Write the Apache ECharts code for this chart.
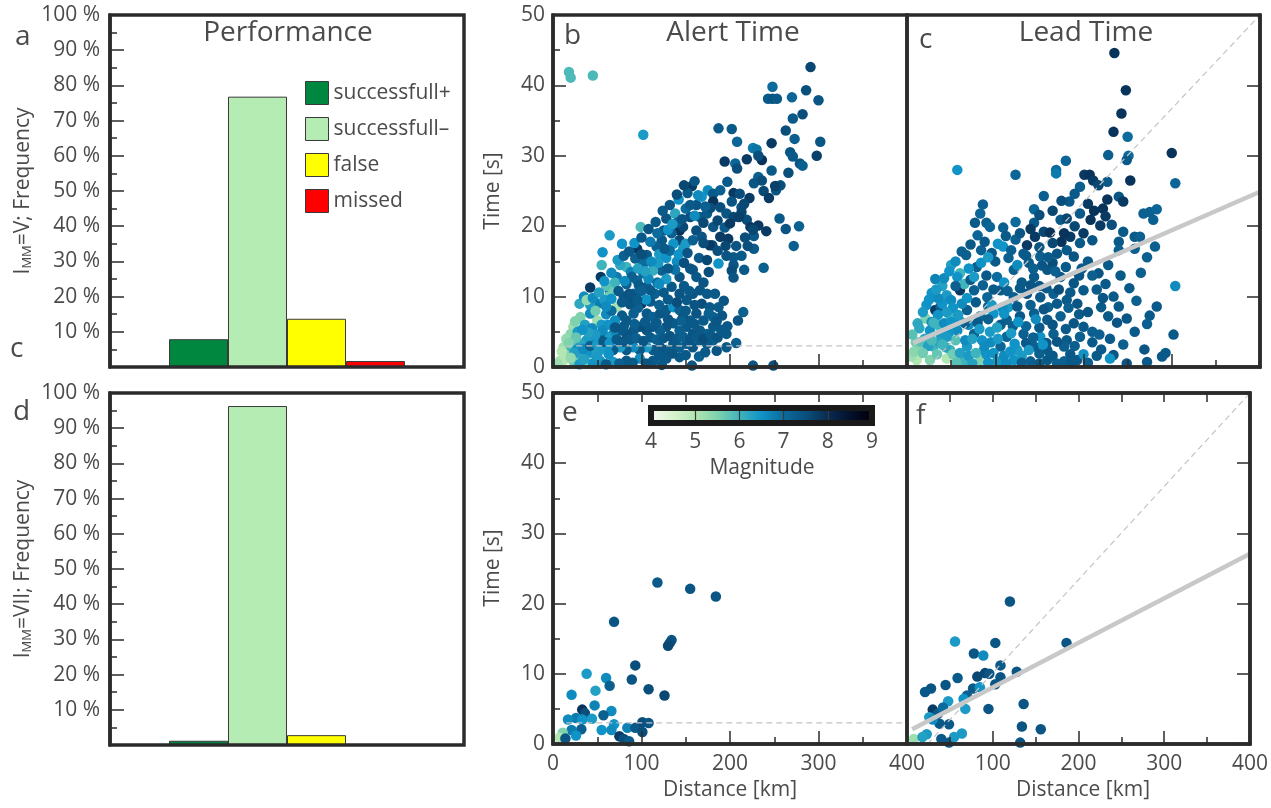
<!DOCTYPE html>
<html><head><meta charset="utf-8">
<script src="https://cdn.jsdelivr.net/npm/echarts@6/dist/echarts.min.js"></script>
<style>html,body{margin:0;padding:0;background:#fff}#c{width:1271px;height:808px}</style>
</head><body><div id="c"></div>
<script>
// ---------- DATA ----------
const perfCategories = ['pad-left', 'successfull+', 'successfull–', 'false', 'missed', 'pad-right'];
const perfNames = ['successfull+', 'successfull–', 'false', 'missed'];
const perfColors = ['#00873f', '#b4ecb4', '#ffff00', '#ff0000'];
const perfV = [7.9, 76.8, 13.7, 1.7];     // I_MM = V
const perfVII = [1.2, 96.3, 2.8, 0];      // I_MM = VII

const magTicks = [4, 5, 6, 7, 8, 9];
const magColors = ['#f4fbf1', '#d8f2d0', '#b2e6b2', '#7fd2ae', '#40b4bc', '#1093c6', '#0b6b9d', '#0a4f7c', '#082c52', '#04102e', '#000008'];

// [distance km, time s, magnitude]
const alertV = [
[18,41.9,5.9],[20,41.1,5.9],[45,41.4,5.9],[102,33.0,6.4],[99,19.9,5.9],
[291,42.6,7.6],[248,39.8,7.0],[243,38.1,7.3],[248,38.1,7.4],[253,38.1,7.3],[270,38.3,7.1],[286,39.3,7.5],[300,37.9,7.4],[282,35.9,7.5],[271,35.3,7.3],[263,33.6,7.5],[273,32.4,7.2],[302,32.0,7.4],[247,31.8,7.8],[298,30.0,7.7],[268,30.5,7.4],[271,29.9,7.3],[279,28.9,7.4],[282,28.6,7.2],[266,27.6,7.5],[247,27.9,7.3],
[187,33.9,7.3],[202,33.8,7.3],[208,32.0,7.1],[194,29.2,7.8],[206,28.9,7.1],[208,28.2,7.5],[219,29.5,7.8],[226,31.1,6.8],[230,30.9,6.9],[236,29.4,7.9],[232,30.0,7.5],[232,27.0,7.2],[227,26.1,7.4],[236,26.5,7.5],[238,25.0,7.6],[244,24.0,7.8],[252,25.1,7.4],[257,25.8,7.5],[251,25.7,7.7],
[197,26.3,7.3],[204,24.7,7.8],[211,24.6,7.5],[222,24.0,7.8],[213,22.7,7.4],[213,22.0,7.6],[256,21.1,7.3],[263,19.6,7.4],[278,20.0,7.2],[272,17.2,7.2],[241,19.3,7.8],[238,14.1,7.2],[227,18.6,7.3],[227,16.8,7.3],[219,20.9,7.5],[223,19.9,7.8],[232,20.1,7.8],[226,19.5,7.6],[217,18.4,7.5],[207,17.2,7.4],[198,18.2,7.8],[189,18.5,7.8],[195,17.2,7.6],[180,17.3,7.5],[187,14.7,6.5],[204,15.6,7.3],[204,14.5,7.4],[202,13.7,7.5],[216,13.8,7.3],[204,12.7,7.4],
[183,10.4,7.3],[193,9.4,7.4],[187,8.5,7.3],[191,7.3,7.4],[181,7.1,7.2],[215,7.8,7.2],[209,6.6,7.4],[197,5.8,7.3],[196,4.7,7.3],[207,3.4,7.2],[196,2.8,7.3],[226,0.2,7.4],[249,0.2,7.5],[157,0.2,7.4],[123,0.3,7.3],
[175,25.1,6.6],[181,24.6,7.3],[189,25.1,7.2],[157,25.7,7.8],[152,24.7,7.3],[142,23.8,6.5],[162,23.0,7.4],[181,23.5,7.9],[189,22.7,7.5],[202,23.5,7.4],[174,21.8,7.3],[155,21.3,7.5],[166,21.3,7.3],[196,21.8,7.4],[204,21.3,7.6],[128,21.1,7.4],[138,21.8,6.2],[143,19.4,7.9],[147,19.9,7.6],[162,19.4,7.5],[181,19.9,7.4],[177,17.3,7.8],[125,19.4,7.4],[134,19.0,7.2],[143,18.0,7.6],[136,17.5,6.5],[147,16.8,6.4],[123,18.0,7.3],[117,17.1,7.2],[95,16.8,7.8],[106,15.9,7.3],[113,14.7,7.2],[102,14.7,7.0],[93,15.4,7.2],[155,14.0,7.3],[162,12.8,7.3],[143,12.8,7.4],[134,11.4,7.3],[123,13.7,7.2],[113,13.7,6.1],[102,13.3,7.0],[95,12.3,7.1],[83,11.8,7.2],[106,11.4,7.3],[115,10.4,7.2],[91,10.4,7.2],[80,10.0,7.4],[83,14.2,6.0],[72,12.8,6.8],[64,10.9,7.0],[78,17.5,6.5],[64,18.7,6.4],[56,16.3,6.5],[55,14.5,6.0],[54,12.8,7.8],[42,11.3,7.8],[68,10.9,5.6],[63,10.0,5.6],[51,9.0,6.8],[42,8.8,6.4],[31,7.1,5.5],[72,8.5,5.1],[50,6.6,5.2],[42,7.6,6.6],[23,5.7,5.2],[20,4.7,5.4],[12,2.8,5.2],[8,0.9,5.1],[16,1.9,5.5],
[120,16.0,6.4],[128,15.5,6.5],[132,16.5,7.0],[140,15.0,6.6],[150,17.5,6.4],[158,18.0,7.2],[168,18.5,7.4],[170,20.5,7.6],[160,21.5,6.6],[150,22.5,7.0],[140,20.5,7.2],[130,19.5,6.5],[118,19.0,7.0],[110,17.8,6.8],[100,16.0,7.5],[88,13.5,6.7],[76,14.5,6.2],[70,12.0,6.0],[60,11.5,5.8],[58,9.5,6.4],[96,14.0,6.3],[108,12.5,6.6],[118,12.0,7.0],[128,12.5,6.4],[138,13.8,6.9],[148,14.8,7.5],[165,15.5,7.3],[170,12.0,7.4],[176,13.5,7.5],
[83,6.6,7.3],[91,7.6,7.2],[100,9.0,7.8],[106,7.6,7.3],[113,7.1,7.2],[121,7.6,7.4],[128,8.1,7.3],[136,8.5,6.5],[143,8.1,7.2],[151,9.5,7.3],[158,10.4,7.4],[166,10.9,7.4],[174,10.4,7.3],[168,9.0,7.5],[177,8.5,7.3],[162,7.6,7.4],[155,6.6,7.3],[147,7.1,7.4],[170,6.6,7.3],[181,5.7,7.3],[174,4.7,7.2],[166,5.2,7.3],[158,4.7,7.4],[151,5.7,7.3],[143,5.2,7.2],[136,6.2,7.3],[128,5.7,7.4],[121,5.2,7.2],[113,5.7,7.3],[106,5.2,7.4],[98,5.7,7.5],[91,5.2,7.3],[83,4.7,7.4],[76,5.2,7.3],[68,4.7,6.6],[61,4.3,6.4],[53,4.7,7.3],[46,3.8,6.5],[38,3.8,6.4],[31,3.3,6.2],[181,3.8,7.2],[174,3.3,7.3],[166,3.8,7.3],[158,2.8,7.4],[151,3.3,7.3],[143,2.8,7.2],[136,3.3,7.3],[128,2.4,7.3],[121,2.8,7.4],[113,2.4,7.3],[106,2.8,6.4],[98,2.4,7.3],[91,2.8,6.6],[83,2.4,7.3],[76,2.8,6.4],[68,2.4,7.3],[61,2.8,6.5],[53,2.4,6.4],[46,1.9,6.3],[38,1.9,6.5],[31,1.4,6.2],[23,0.9,5.6],[143,1.4,7.3],[128,1.2,7.3],[113,0.9,7.3],[98,1.2,6.6],[83,0.9,7.3],[68,0.7,6.4],[53,0.9,6.5],[38,0.7,5.4],
[15,4.0,5.3],[25,6.5,5.5],[30,9.0,6.2],[35,10.0,6.6],[28,5.0,6.4],[36,6.0,6.3],[20,3.0,6.0],[12,1.0,5.0],[5,0.5,5.2],[27,2.5,6.5],[44,5.5,6.6],[55,6.0,6.4],[60,7.5,6.6],[48,8.0,5.6],[38,9.5,5.3],[66,8.0,7.0],
[24,2.0,6.3],[34,2.6,6.6],[42,3.0,7.2],[50,3.2,6.4],[57,3.6,7.3],[64,3.4,6.5],[72,3.9,7.3],[79,3.6,7.4],[87,3.9,7.3],[94,4.1,7.2],[102,3.7,7.4],[110,4.2,7.3],[117,3.9,7.2],[125,4.1,7.3],[132,4.4,7.4],[140,4.0,7.3],[147,4.3,7.2],[155,3.9,7.4],[162,4.2,7.3],[170,4.0,7.5],[178,4.5,7.3],[186,4.2,7.4],[190,5.3,7.3],[185,6.5,7.4],[176,7.6,7.2],[160,8.8,7.4],[150,8.0,7.3],[140,9.2,7.5],[130,9.6,7.3],[120,8.8,7.2],[110,9.3,7.3],[96,8.4,7.2],[87,8.9,7.4],[78,7.3,7.3],[70,6.6,6.6],[62,6.0,6.5],[56,5.2,6.6],[48,4.6,6.4],[40,4.9,6.3],[33,5.3,6.5],[26,4.2,5.7],[18,3.4,5.5],[10,2.2,5.0],[30,0.4,6.4],[45,0.5,6.5],[60,0.4,7.3],[75,0.5,7.2],[90,0.6,7.3],[105,0.5,7.4],[120,1.6,7.3],[135,1.9,7.4],[150,1.7,7.3],[165,1.5,7.2],[172,2.1,7.3],[185,2.3,7.4],[160,6.1,7.3],[145,6.6,7.2],[130,6.8,7.4],[117,6.3,7.3],[104,6.4,7.3],[92,6.1,7.2],[80,5.8,7.3],[70,5.6,7.4],[76,3.6,7.3],[63,1.8,6.5],[50,1.5,6.4],[35,1.1,6.3],[20,1.3,5.3],
[45,9.8,6.6],[52,10.6,6.3],[58,12.2,6.5],[66,13.4,6.6],[73,15.2,6.4],[80,15.8,7.2],[86,16.4,7.3],[92,17.6,6.5],[100,18.4,7.3],[108,19.6,7.4],[116,20.6,7.3],[124,22.2,7.3],[132,23.0,7.4],[140,24.5,7.5],[148,25.8,7.6],[160,26.4,7.4],[168,24.2,6.5],[178,22.6,7.5],[186,20.8,7.6],[194,19.8,7.3],[200,20.4,7.8],[210,21.3,7.7],[216,23.2,7.6],[172,22.8,7.2],[164,24.4,6.6],[155,23.0,7.3],[146,21.0,7.4],[135,20.3,6.4],[126,16.8,7.3],[119,14.8,6.4],[111,15.0,6.6],[104,13.6,6.3],[97,11.6,7.3],[89,12.8,7.2],[81,12.2,6.6],[74,10.8,7.3],[66,9.7,6.5],[60,8.6,6.6],[78,9.2,7.3],[88,10.2,7.5],[130,14.0,7.3],[142,16.0,6.5],[152,16.2,7.4],[170,17.6,7.5],[186,16.5,7.5],[196,15.8,7.4],[213,15.8,7.3],[220,17.2,7.5],[174,15.2,7.6],[158,13.8,7.4],[148,11.5,7.3],[154,10.8,7.3],[143,10.4,7.4],[125,10.6,7.3],[120,11.8,6.6],[110,10.9,7.3],[100,10.8,7.2],[105,9.6,6.5],[95,9.6,7.3],[86,10.4,7.4]
];

const leadV = [
[235,44.6,7.9],[248,39.3,7.9],[243,36.0,7.9],[234,33.4,7.9],[250,32.7,7.0],[228,30.1,7.2],[251,30.0,7.0],[249,29.4,7.3],[300,30.4,7.9],[304,26.1,7.1],[180,29.3,7.1],[169,28.0,7.0],[169,27.5,6.8],[123,27.3,7.1],[57,28.0,6.5],[201,27.3,7.8],[207,27.3,7.9],[211,26.5,7.8],[217,25.8,7.6],[196,25.6,7.2],[227,26.3,7.3],[253,26.5,7.9],[155,24.3,7.2],[184,23.5,7.3],[227,23.8,7.9],[222,22.5,7.9],[240,24.2,7.4],[245,23.5,7.8],[268,21.8,7.2],[275,22.0,7.2],[283,22.4,7.1],[279,20.9,7.2],[144,22.4,7.1],[144,20.5,7.3],[86,23.1,7.2],[83,21.8,7.1],[77,20.5,7.3],[90,20.5,7.2],[94,19.9,7.1],[80,18.7,7.1],[109,19.8,7.2],[123,20.6,7.0],[123,18.1,7.2],[67,15.9,7.2],[103,17.5,6.5],[109,17.1,6.5],[174,20.9,7.3],[181,21.1,7.6],[196,21.8,7.3],[208,20.9,7.9],[219,20.1,7.8],[245,19.2,7.3],[258,18.5,7.3],[264,18.5,7.2],[240,17.8,7.3],[258,16.8,7.2],[281,17.1,7.2],[272,15.6,7.2],[240,16.6,7.2],[228,14.5,7.3],[217,13.3,7.4],[242,13.0,7.3],[265,13.4,7.2],[304,11.5,6.6],[234,10.0,7.3],[283,8.6,7.3],[275,7.3,7.3],[249,6.9,7.4],[238,6.3,7.4],[272,6.1,7.2],[302,4.6,7.3],[269,2.5,7.4],[293,2.0,7.3],[289,1.5,7.3],[249,0.5,7.4],[272,0.7,7.3],[234,1.7,7.4],[230,1.2,6.5],
[136,17.3,7.8],[145,18.5,7.8],[155,19.2,7.6],[162,19.1,7.9],[132,16.1,7.3],[151,15.7,7.2],[170,16.1,7.4],[181,16.6,7.3],[189,15.7,7.4],[196,17.6,7.3],[60,13.3,6.0],[57,12.8,6.5],[79,14.2,7.2],[102,12.8,7.0],[121,13.8,7.2],[144,12.8,7.3],[159,13.8,7.4],[174,12.8,7.3],[189,11.9,7.4],[200,10.9,7.3],[45,10.2,6.4],[60,10.9,7.8],[76,10.9,7.2],[91,9.9,7.1],[106,10.9,7.3],[121,9.9,7.2],[136,10.4,7.4],[151,9.9,7.3],[166,10.4,7.2],[181,9.5,7.3],[193,9.0,7.4],[21,6.9,5.5],[32,8.1,7.8],[38,8.6,7.2],[49,7.2,6.0],[68,8.1,7.2],[83,7.2,7.1],[98,7.6,6.5],[113,6.7,7.2],[128,7.2,7.3],[144,7.6,7.2],[159,6.7,7.3],[174,7.2,7.2],[189,6.2,7.4],[200,5.7,7.3],[26,5.2,6.5],[38,4.7,6.4],[57,5.2,6.6],[76,4.7,7.2],[94,5.0,6.4],[113,4.3,7.1],[132,4.7,7.2],[151,4.3,6.5],[166,4.7,7.2],[181,3.8,7.3],[196,4.3,7.2],[15,2.4,5.5],[30,2.9,6.0],[49,2.4,6.0],[68,2.9,6.4],[87,2.4,6.5],[106,2.9,7.1],[125,2.4,6.4],[144,2.9,7.2],[159,2.4,7.3],[178,2.9,7.2],[11,1.0,5.0],[26,1.0,5.5],[45,1.2,5.0],[64,0.8,6.0],[83,1.0,5.5],[102,0.8,6.4],[121,1.0,6.5],[140,0.8,7.2],[159,1.0,7.3],[178,0.8,7.2],[193,1.0,7.3],
[100,15.0,7.3],[115,15.5,7.2],[125,14.5,6.6],[90,13.0,7.3],[110,12.0,6.5],[130,12.0,7.3],[150,11.5,7.3],[165,14.8,7.5],[175,17.8,7.9],[185,18.5,7.8],[200,19.0,7.8],[210,18.0,7.4],[205,15.0,7.3],[215,11.0,7.3],[220,8.5,7.3],[210,5.0,7.2],[220,2.5,7.3],[60,6.5,6.5],[70,6.0,6.6],[50,9.5,6.6],[40,11.5,6.3],[35,6.0,6.0],[20,4.0,6.2],[10,3.5,5.6],[5,1.5,5.2],[55,3.8,5.8],[95,3.5,6.6],[115,8.5,6.4],[135,5.8,7.1],[160,8.5,7.2],[190,3.0,7.2],[200,1.8,6.5],[210,3.5,7.3],[32,12.5,6.7],[50,14.5,6.3],[65,11.8,6.0],[40,9.0,6.5],[28,10.5,6.5],
[8,2.2,5.4],[16,3.6,5.8],[24,3.0,6.3],[14,5.5,6.2],[22,8.8,6.5],[28,6.4,6.6],[35,7.4,6.5],[42,6.2,6.6],[48,5.0,6.5],[36,3.6,6.3],[44,2.8,6.2],[52,1.8,5.6],[60,2.0,6.3],[70,1.6,6.4],[78,2.0,6.0],[90,1.8,6.5],[98,2.0,6.5],[110,1.6,6.6],[117,2.2,6.5],[130,1.6,6.4],[135,3.4,7.3],[150,1.9,7.2],[165,1.6,7.3],[185,1.8,7.3],[170,3.6,7.4],[158,3.4,7.3],[143,4.2,7.2],[122,3.3,6.5],[103,4.0,6.4],[85,3.8,6.5],[66,3.8,6.6],[45,4.3,6.4],[30,6.3,6.0],[50,6.4,6.5],[66,6.2,7.2],[80,6.3,7.3],[92,6.8,7.2],[106,6.0,7.3],[120,5.8,7.2],[150,5.6,7.3],[165,6.0,7.4],[180,5.4,7.3],[195,7.5,7.3],[183,8.4,7.2],[170,9.0,7.3],[155,8.2,7.4],[140,8.8,7.2],[125,8.6,7.3],[108,8.4,6.6],[92,8.6,7.2],[78,9.2,7.3],[62,9.0,6.6],[52,8.4,6.5],[45,7.8,6.4],[35,9.8,6.6],[55,11.5,7.2],[72,12.4,7.3],[86,11.6,7.2],[98,11.0,7.3],[114,10.8,7.2],[128,11.2,7.3],[140,11.6,7.4],[158,11.2,7.3],[172,11.0,7.5],[185,10.6,7.3],[195,13.0,7.4],[180,14.2,7.3],[168,13.6,7.2],[153,14.4,7.4],[138,14.8,7.3],[118,16.6,7.2],[96,16.2,7.3],[84,16.6,7.2],[72,17.4,7.3],[88,17.8,7.3],[112,18.6,7.3],[128,19.0,7.4],[140,19.6,7.8],[150,21.6,7.5],[165,22.2,7.6],[175,23.6,7.5],[190,24.6,7.3],[205,23.2,7.8],[212,22.2,7.9],[225,21.4,7.8],[232,20.2,7.5],[190,20.0,7.6],[178,19.0,7.9],[165,17.6,7.6],[150,17.0,7.4],[135,15.8,7.3],[143,14.0,7.2],[160,15.6,7.3],[198,14.0,7.3],[210,13.0,7.2],[225,11.8,7.3],[222,9.8,7.4],[240,8.6,7.3],[228,7.2,7.3],[218,4.6,7.2],[205,7.8,7.4],[230,4.0,7.3],[245,3.2,7.2],[258,5.0,7.3],[260,9.4,7.2],[252,11.2,7.3],
[6,4.6,5.8],[12,6.2,6.2],[18,7.8,6.4],[25,9.6,6.5],[33,11.0,6.4],[42,12.6,6.6],[48,13.6,6.5],[55,15.0,6.6],[62,16.4,7.2],[70,14.0,6.5],[76,12.8,6.4],[84,14.8,6.5],[92,15.6,6.4],[58,7.4,6.4],[68,9.8,6.5],[74,4.0,6.3],[82,5.4,6.4],[88,3.0,6.6],[96,8.8,6.4],[102,5.6,6.3],[110,7.6,6.5],[118,4.8,6.4],[126,6.4,6.5],[138,2.4,6.4],[146,6.8,6.6],[154,3.2,6.5],[18,2.0,5.6],[28,3.8,5.9],[34,1.8,5.7],[40,3.2,6.0],[56,0.6,5.8],[74,0.5,6.3],[92,0.6,6.5],[112,0.5,6.6],[130,0.6,7.2],[150,0.5,7.3],[170,0.5,7.2],[186,0.6,7.3],[205,0.6,7.2],[215,1.6,7.3]
];

const alertVII = [
[118,23.0,7.3],[155,22.1,7.4],[184,21.0,7.4],[69,17.4,7.4],[134,14.8,7.4],[132,14.4,7.5],[130,14.0,7.6],[93,11.2,7.5],[38,10.0,6.4],[89,9.2,7.4],[60,9.4,6.6],[64,8.3,7.2],[48,7.6,6.3],[21,7.0,6.6],[108,7.8,7.5],[126,6.9,7.6],[47,5.5,6.7],[33,4.9,7.9],[36,4.4,7.5],[66,4.7,6.6],[57,4.1,7.2],[26,3.7,6.8],[17,3.5,6.6],[44,3.6,6.4],[33,3.5,6.5],[69,2.8,6.5],[55,2.0,6.5],[66,2.0,6.6],[32,2.1,7.2],[21,2.0,6.8],[84,2.3,6.7],[93,2.3,7.3],[101,1.7,7.5],[101,3.1,7.5],[108,3.0,7.4],[75,1.1,7.8],[80,0.7,7.5],[86,0.4,7.3],[11,1.6,5.5],[7,0.9,5.0],[14,0.8,7.4],[26,1.2,6.5]
];

const leadVII = [
[120,20.3,7.4],[56,14.6,6.4],[103,14.4,7.4],[186,14.4,7.4],[78,12.9,7.4],[89,12.6,6.6],[109,11.2,7.3],[91,10.1,7.6],[96,10.0,7.4],[82,9.6,7.6],[128,10.3,7.4],[109,9.5,7.4],[59,9.4,7.3],[103,8.5,7.4],[45,8.4,7.4],[28,7.9,7.4],[21,7.4,7.3],[77,7.9,7.3],[85,8.1,6.5],[70,6.9,7.2],[66,6.4,6.5],[48,6.1,6.4],[136,5.7,7.4],[95,5.0,7.4],[68,5.0,6.4],[30,4.9,7.8],[36,4.3,7.3],[26,3.8,6.4],[38,2.9,7.3],[49,2.8,7.3],[134,2.5,7.4],[156,2.1,7.4],[64,1.5,6.4],[23,1.4,6.4],[40,0.7,7.3],[8,0.7,5.2],[132,0.2,7.4],[49,0.2,7.3],[30,3.5,6.6],[42,5.2,7.0],[18,1.0,6.3],[55,1.0,6.4]
];

// reference lines
const alertThreshold = [[15, 3], [400, 3]];
const diagLine = [[24, 0], [400, 50]];
const fitV = [[7, 3.4], [400, 24.9]];
const fitVII = [[6, 2.1], [400, 27.1]];

// ---------- CHART ----------
const FONT = '"Open Sans", sans-serif';
const TXT = '#4b4b4b';
const FRAME = '#2b2b2b';
const chart = echarts.init(document.getElementById('c'));

const gridBase = {show: true, borderColor: FRAME, borderWidth: 3.5, z: 10};
const grids = [
  Object.assign({left: 110, top: 15, width: 354, height: 352}, gridBase),
  Object.assign({left: 553, top: 15, width: 354, height: 352}, gridBase),
  Object.assign({left: 907, top: 15, width: 353, height: 352}, gridBase),
  Object.assign({left: 110, top: 393, width: 354, height: 352}, gridBase),
  Object.assign({left: 553, top: 393, width: 354, height: 351}, gridBase),
  Object.assign({left: 907, top: 393, width: 353, height: 351}, gridBase),
  Object.assign({}, gridBase, {left: 651, top: 408, width: 221, height: 15, borderWidth: 6, borderColor: '#1a1a1a'})
];

const tickStyle = {color: FRAME, width: 1.5};
const lineFrame = {show: true, onZero: false, lineStyle: {color: FRAME, width: 3.5}};
const labelStyle = {color: TXT, fontSize: 21, fontFamily: FONT};

function catX(gi) {
  return {type: 'category', gridIndex: gi, data: perfCategories, axisLine: {show: false}, axisTick: {show: false}, axisLabel: {show: false}, splitLine: {show: false}};
}
function distX(gi, showLabels, hideMin) {
  return {
    type: 'value', gridIndex: gi, min: 0, max: 400, interval: 100, position: 'bottom', z: 10,
    axisLine: lineFrame,
    axisTick: {show: true, inside: true, length: 13, lineStyle: tickStyle},
    minorTick: {show: true, splitNumber: 2, length: 7, lineStyle: tickStyle},
    splitLine: {show: false},
    axisLabel: {show: showLabels, margin: 10, showMinLabel: !hideMin, ...labelStyle}
  };
}
function topX(gi) {
  return {
    type: 'value', gridIndex: gi, min: 0, max: 400, interval: 50, position: 'top', z: 10,
    axisLine: lineFrame,
    axisTick: {show: true, inside: true, length: 9, lineStyle: tickStyle},
    axisLabel: {show: false}, splitLine: {show: false}
  };
}
function pctY(gi, label) {
  return {
    type: 'value', gridIndex: gi, min: 0, max: 100, interval: 10, z: 10,
    axisLine: lineFrame,
    axisTick: {show: true, inside: true, length: 14, lineStyle: tickStyle},
    minorTick: {show: true, splitNumber: 2, length: 7, lineStyle: tickStyle},
    splitLine: {show: false},
    axisLabel: {margin: 10, formatter: v => v === 0 ? '' : v + ' %', ...labelStyle},
    name: '{n|I}{s|MM}{n|=' + label + '; Frequency}', nameLocation: 'middle', nameGap: 76, nameRotate: 90,
    nameTextStyle: {rich: {n: {fontSize: 21, color: TXT, fontFamily: FONT}, s: {fontSize: 13, color: TXT, fontFamily: FONT, padding: [9, 0, 0, 0]}}}
  };
}
function timeY(gi, left) {
  return {
    type: 'value', gridIndex: gi, min: 0, max: 50, interval: 10, position: left ? 'left' : 'right', z: 10,
    axisLine: lineFrame,
    axisTick: {show: true, inside: true, length: 13, lineStyle: tickStyle},
    minorTick: {show: left, splitNumber: 2, length: 7, lineStyle: tickStyle},
    splitLine: {show: false},
    axisLabel: {show: left, margin: 8, ...labelStyle}
  };
}

const xAxes = [
  catX(0), distX(1, false, false), distX(2, false, false), catX(3),
  distX(4, true, false), distX(5, true, true), topX(4), topX(5),
  {type: 'value', gridIndex: 6, min: 4, max: 9, interval: 1, position: 'bottom', z: 5,
   axisLine: {show: false}, axisTick: {show: false},
   splitLine: {show: true, lineStyle: {color: '#3a3a3a', width: 1.2}},
   axisLabel: {margin: 9, ...labelStyle}}
];
const yAxes = [
  pctY(0, 'V'), timeY(1, true), timeY(2, false), pctY(3, 'VII'), timeY(4, true), timeY(5, false),
  {type: 'value', gridIndex: 6, min: 0, max: 1, show: false}
];

function barSeries(values, xi, yi) {
  return perfNames.map((nm, k) => ({
    type: 'bar', name: nm, xAxisIndex: xi, yAxisIndex: yi,
    barWidth: '100%', barGap: '-100%',
    itemStyle: {color: perfColors[k], borderColor: '#3a3a3a', borderWidth: 1},
    data: perfCategories.map((c, i) => (i === k + 1 ? values[k] : '-'))
  }));
}
function scatterSeries(data, idx) {
  return {type: 'scatter', xAxisIndex: idx, yAxisIndex: idx, data: data, symbolSize: 10.5, clip: true, z: 3,
          itemStyle: {opacity: 1}};
}
function lineSeries(data, idx, dashed, width) {
  return {type: 'line', xAxisIndex: idx, yAxisIndex: idx, data: data, symbol: 'none', z: 6, clip: true,
          lineStyle: {color: dashed ? '#c4c4c4' : '#c8c8c8', width: width, type: dashed ? [6, 4] : 'solid'}};
}

const gradStops = magColors.map((c, i) => ({offset: i / (magColors.length - 1), color: c}));

const series = [
  ...barSeries(perfV, 0, 0),
  ...barSeries(perfVII, 3, 3),
  scatterSeries(alertV, 1),
  scatterSeries(leadV, 2),
  scatterSeries(alertVII, 4),
  scatterSeries(leadVII, 5),
  lineSeries(alertThreshold, 1, true, 1.2),
  lineSeries(diagLine, 2, true, 1.2),
  lineSeries(fitV, 2, false, 4.5),
  lineSeries(alertThreshold, 4, true, 1.2),
  lineSeries(diagLine, 5, true, 1.2),
  lineSeries(fitVII, 5, false, 4.5),
  {type: 'custom', xAxisIndex: 8, yAxisIndex: 6, z: 2,
   data: [[magTicks[0], magTicks[magTicks.length - 1]]],
   encode: {x: [0, 1]},
   renderItem: function (params, api) {
     const p0 = api.coord([api.value(0), 0]);
     const p1 = api.coord([api.value(1), 1]);
     return {type: 'rect', shape: {x: p0[0], y: p1[1], width: p1[0] - p0[0], height: p0[1] - p1[1]},
             style: {fill: new echarts.graphic.LinearGradient(0, 0, 1, 0, gradStops)}};
   }}
];
const scatterIdx = [8, 9, 10, 11];

function txt(t, x, y, size, align, rot) {
  return {type: 'text', x: x, y: y, z: 20, rotation: rot || 0,
          style: {text: t, fill: TXT, font: size + 'px ' + FONT, align: align || 'left', verticalAlign: 'middle'}};
}

chart.setOption({
  animation: false,
  grid: grids,
  xAxis: xAxes,
  yAxis: yAxes,
  legend: {
    data: perfNames, left: 300, top: 76, orient: 'vertical', itemWidth: 23, itemHeight: 23, itemGap: 12,
    icon: 'rect', selectedMode: false,
    textStyle: {color: TXT, fontSize: 21, fontFamily: FONT},
    itemStyle: {borderColor: '#3a3a3a', borderWidth: 1}
  },
  visualMap: {
    type: 'continuous', show: false, min: magTicks[0], max: magTicks[magTicks.length - 1],
    dimension: 2, seriesIndex: scatterIdx, inRange: {color: magColors}
  },
  graphic: [
    txt('a', 15, 37, 28), txt('c', 10, 349, 28), txt('d', 13, 412, 28),
    txt('b', 564, 36, 28), txt('c', 919, 40, 28), txt('e', 562, 413, 28), txt('f', 916, 416, 28),
    txt('Performance', 288, 33, 28, 'center'),
    txt('Alert Time', 733, 33, 28, 'center'),
    txt('Lead Time', 1086, 33, 28, 'center'),
    txt('Time [s]', 493, 191, 21, 'center', Math.PI / 2),
    txt('Time [s]', 493, 568, 21, 'center', Math.PI / 2),
    txt('Distance [km]', 730, 790, 21, 'center'),
    txt('Distance [km]', 1083, 790, 21, 'center'),
    txt('Magnitude', 762, 468, 21, 'center')
  ],
  series: series
});
</script>
</body></html>
